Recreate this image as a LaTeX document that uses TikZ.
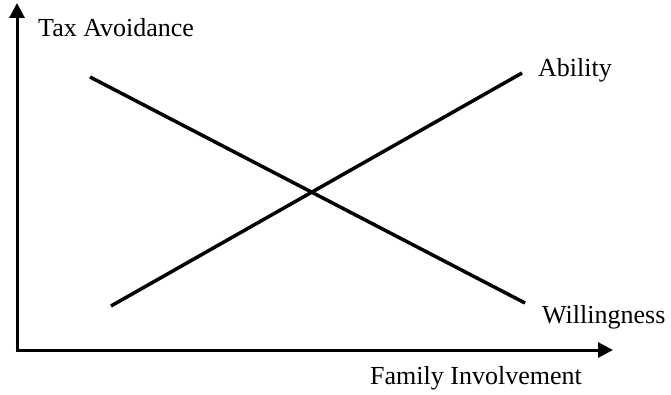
\documentclass[tikz,border=0pt]{standalone}
\usepackage{fontspec}
\setmainfont{Liberation Serif}
\usetikzlibrary{arrows.meta}
\tikzset{
  axisline/.style={line width=3pt, -{Triangle[length=15pt,width=15pt]}},
  trendline/.style={line width=3.5pt},
  lbl/.style={anchor=base west, inner sep=0pt, font=\fontsize{26}{31}\selectfont}
}
\begin{document}
\begin{tikzpicture}[x=1pt,y=-1pt]
\useasboundingbox (0,0) rectangle (671,395);
\coordinate (origin) at (17,350);
\coordinate (ytip) at (17,3);
\coordinate (xtip) at (613,350);
\draw[axisline] (origin) -- (ytip);
\draw[axisline] ([xshift=-1.5pt]origin) -- (xtip);
\coordinate (w1) at (90,77);
\coordinate (w2) at (525,303);
\coordinate (a1) at (111,306);
\coordinate (a2) at (522,73);
\draw[trendline] (w1) -- (w2);
\draw[trendline] (a1) -- (a2);
\node[lbl] (tax) at (38,37) {Tax Avoidance};
\node[lbl] (abil) at (538,77) {Ability};
\node[lbl] (will) at (542,323) {Willingness};
\node[lbl] (fam) at (370,384) {Family Involvement};
\end{tikzpicture}
\end{document}
